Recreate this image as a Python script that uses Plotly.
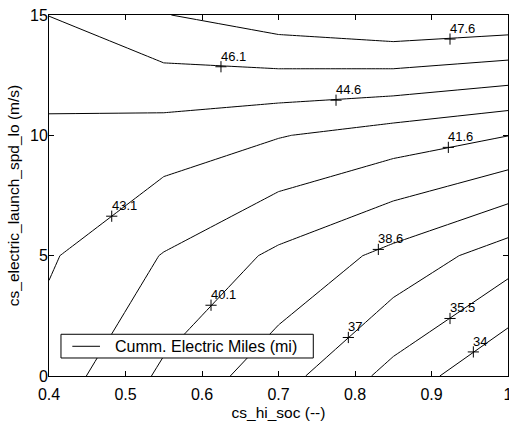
import plotly.graph_objects as go

# grid of the parametric study
cs_hi_soc = [0.4, 0.55, 0.7, 0.85, 1.0]
cs_electric_launch_spd_lo = [0, 5, 10, 15]

# Cumm. Electric Miles (mi) at each grid node, rows = launch speed, cols = hi_soc
miles_y0 = [42.44, 39.78, 37.67, 35.04, 32.55]
miles_y5 = [43.25, 41.50, 39.76, 38.12, 36.25]
miles_y10 = [44.26, 43.91, 43.17, 42.40, 41.60]
miles_y15 = [46.12, 47.55, 48.47, 49.09, 48.80]

# contour levels
level_start = 34.029
level_step = 1.50909
n_levels = 10

# contour labels (clabel positions)
label_text = ["47.6", "46.1", "44.6", "43.1", "41.6", "40.1", "38.6", "37", "35.5", "34"]
label_x = [0.9242, 0.6248, 0.7752, 0.482, 0.922, 0.6118, 0.8305, 0.7913, 0.9242, 0.9547]
label_y = [14.0, 12.85, 11.46, 6.64, 9.50, 2.94, 5.26, 1.60, 2.39, 1.0]

x_ticks = [0.4, 0.5, 0.6, 0.7, 0.8, 0.9, 1.0]
x_ticktext = ["0.4", "0.5", "0.6", "0.7", "0.8", "0.9", "1"]
y_ticks = [0, 5, 10, 15]

legend_name = "Cumm. Electric Miles (mi)"

FONT = "Liberation Sans, Arial, Helvetica, sans-serif"

fig = go.Figure()
fig.add_trace(go.Contour(
    x=cs_hi_soc, y=cs_electric_launch_spd_lo,
    z=[miles_y0, miles_y5, miles_y10, miles_y15],
    contours=dict(coloring="none", start=level_start,
                  end=level_start + (n_levels - 1) * level_step + 1e-6,
                  size=level_step, showlabels=False),
    line=dict(color="black", width=1, smoothing=0),
    showscale=False, showlegend=False, hoverinfo="skip",
))
fig.add_trace(go.Scatter(
    x=label_x, y=label_y, mode="markers",
    marker=dict(symbol="cross-thin", size=8, line=dict(color="black", width=1)),
    showlegend=False, hoverinfo="skip",
))

for t, x, y in zip(label_text, label_x, label_y):
    fig.add_annotation(x=x, y=y, text=t, showarrow=False, xanchor="left",
                       yanchor="bottom", xshift=-2, yshift=1,
                       font=dict(family=FONT, size=13, color="black"))

# MATLAB-style legend box (drawn in axes-fraction coordinates)
fig.add_shape(type="rect", xref="x domain", yref="y domain",
              x0=0.0261, x1=0.5758, y0=0.0499, y1=0.1156,
              line=dict(color="black", width=1), fillcolor="white", layer="above")
fig.add_shape(type="line", xref="x domain", yref="y domain",
              x0=0.0508, x1=0.1111, y0=0.0823, y1=0.0823,
              line=dict(color="black", width=1), layer="above")
fig.add_annotation(xref="x domain", yref="y domain", x=0.1394, y=0.0823,
                   text=legend_name, showarrow=False, xanchor="left",
                   yanchor="middle", font=dict(family=FONT, size=16, color="black"))

fig.update_layout(
    width=509, height=421,
    margin=dict(l=49, r=1, t=15, b=45),
    paper_bgcolor="white", plot_bgcolor="white",
    font=dict(family=FONT, size=16, color="black"),
    showlegend=False,
    xaxis=dict(range=[0.4, 1.0], tickvals=x_ticks, ticktext=x_ticktext,
               ticks="inside", ticklen=5, tickcolor="black",
               ticklabelstandoff=4, ticklabeloverflow="allow", automargin=False,
               showline=True, linecolor="black", linewidth=1, mirror="ticks",
               showgrid=False, zeroline=False,
               title=dict(text="cs_hi_soc (--)", standoff=4,
                          font=dict(family=FONT, size=15.5))),
    yaxis=dict(range=[0, 15], tickvals=y_ticks,
               ticks="inside", ticklen=5, tickcolor="black",
               ticklabelstandoff=-3, ticklabeloverflow="allow", automargin=False,
               showline=True, linecolor="black", linewidth=1, mirror="ticks",
               showgrid=False, zeroline=False,
               title=dict(text="cs_electric_launch_spd_lo (m/s)", standoff=6,
                          font=dict(family=FONT, size=15.5))),
)

fig.write_html("out.html")
